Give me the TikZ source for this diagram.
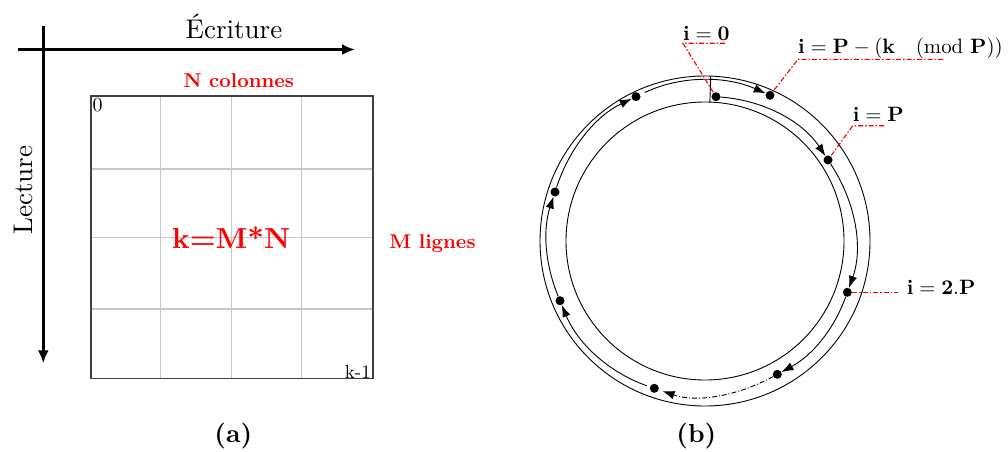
\documentclass[tikz,border=0pt]{standalone}
\usepackage{fix-cm}
\usepackage{fontspec}
\setmainfont{lmroman10-regular.otf}[BoldFont=lmroman10-bold.otf]
\DeclareFontShape{OT1}{cmr}{m}{n}{<-> cmr10}{}
\DeclareFontShape{OT1}{cmr}{bx}{n}{<-> cmbx10}{}
\DeclareFontShape{OML}{cmm}{m}{it}{<-> cmmi10}{}
\usetikzlibrary{arrows.meta}
\tikzset{
  ring/.style={line width=0.9pt},
  flow/.style={line width=0.9pt,-{Latex[length=12pt,width=8.5pt]},looseness=0.9},
  dot/.style={circle,fill,inner sep=0pt,minimum size=9pt},
  leader/.style={red,line width=1.1pt,dash pattern=on 5pt off 2pt on 1.5pt off 2pt},
  lbl/.style={inner sep=0pt,font=\fontsize{20.8}{24}\selectfont},
  axisline/.style={line width=3pt,-{Latex[length=13pt,width=11pt]}},
  big/.style={inner sep=0pt,font=\fontsize{27}{32}\selectfont},
  redlbl/.style={inner sep=0pt,red,font=\fontsize{20}{24}\selectfont\bfseries},
  gridline/.style={line width=1.3pt,black!22},
}
\begin{document}
\begin{tikzpicture}[x=1pt,y=1pt]
\useasboundingbox (0,0) rectangle (1008,451);
% ---------- (a) ----------
\foreach \x in {160.3,231.7,301.7} \draw[gridline] (\x,72.3) -- (\x,355);
\foreach \y in {282,213.3,142} \draw[gridline] (91,\y) -- (373,\y);
\draw[line width=1.3pt,black!75] (91,72.3) rectangle (373,355);
\node[inner sep=0pt,anchor=north west,font=\fontsize{20}{24}\selectfont] (zero) at (92.3,353) {0};
\node[inner sep=0pt,anchor=south east,font=\fontsize{19}{22}\selectfont] (km) at (371,72.7) {k-1};
\node[inner sep=0pt,anchor=base,red,font=\fontsize{29}{34}\selectfont\bfseries] (kmn) at (231.2,202.7) {k=M*N};
\node[redlbl,anchor=base] (ncol) at (238.8,363.7) {N colonnes};
\node[redlbl,anchor=base] (mlig) at (432.5,203) {M lignes};
\coordinate (hx0) at (18,401.5);
\coordinate (hx1) at (355,401.5);
\coordinate (vy0) at (43.3,425);
\coordinate (vy1) at (43.3,87.7);
\draw[axisline] (hx0) -- (hx1);
\draw[axisline] (vy0) -- (vy1);
\node[big,anchor=base] (ecr) at (234,413) {Écriture};
\node[big,anchor=base,rotate=90] (lec) at (32.7,261) {Lecture};
\node[inner sep=0pt,anchor=base,font=\fontsize{26}{30}\selectfont\bfseries] (capa) at (233.3,8.7) {(a)};
% ---------- (b) ----------
\coordinate (c) at (705,210);
\draw[ring] (c) circle[radius=165];
\draw[ring] (c) circle[radius=139];
\draw[ring] ([shift={(88:139)}]c) -- ([shift={(88:165)}]c);
\node[dot] (d0) at (716,354.3) {};
\node[dot] (d1) at (770,355.7) {};
\node[dot] (dP) at (828,291) {};
\node[dot] (d2P) at (847.3,158.7) {};
\node[dot] (dBR) at (777.3,76.7) {};
\node[dot] (dB) at (654.3,62.7) {};
\node[dot] (dLL) at (560,150.3) {};
\node[dot] (dLU) at (555,259) {};
\node[dot] (dTL) at (636,354.3) {};
\draw[flow] (d0) to[out=-4.4,in=123.4] (dP);
\draw[flow] (dP) to[out=-56.6,in=70.2] (d2P);
\draw[flow] (d2P) to[out=-109.8,in=28.5] (dBR);
\draw[flow,dash pattern=on 5pt off 2pt on 1pt off 2pt,shorten >=4pt] (dBR) to[out=-151.5,in=-19] (dB);
\draw[flow,shorten <=3pt] (dB) to[out=161,in=-67.6] (dLL);
\draw[flow] (dLL) to[out=112.4,in=-108.1] (dLU);
\draw[flow] (dLU) to[out=71.9,in=-154.5] (dTL);
\draw[flow,shorten <=5pt] (dTL) to[out=25.5,in=156] (d1);
% labels
\node[lbl,anchor=base west] (l0) at (683,410.3) {$\mathbf{i=0}$};
\coordinate (u0a) at (683,407.7);
\coordinate (u0b) at (725,407.7);
\draw[leader] (u0b) -- (u0a) -- (d0);
\node[lbl,anchor=base west] (l1) at (798,397.7) {$\mathbf{i=P-(k\pmod P)}$};
\coordinate (u1a) at (798,391.7);
\coordinate (u1b) at (943,391.7);
\draw[leader] (u1b) -- (u1a) -- (d1);
\node[lbl,anchor=base west] (lP) at (852.7,329.3) {$\mathbf{i=P}$};
\coordinate (uPa) at (852.7,325.3);
\coordinate (uPb) at (884,325.3);
\draw[leader] (uPb) -- (uPa) -- (dP);
\node[lbl,anchor=base west] (l2P) at (906.7,157) {$\mathbf{i=2.P}$};
\coordinate (u2P) at (898,158.7);
\draw[leader] (d2P) -- (u2P);
\node[inner sep=0pt,anchor=base,font=\fontsize{26}{30}\selectfont\bfseries] (capb) at (696.3,8.7) {(b)};
\end{tikzpicture}
\end{document}
